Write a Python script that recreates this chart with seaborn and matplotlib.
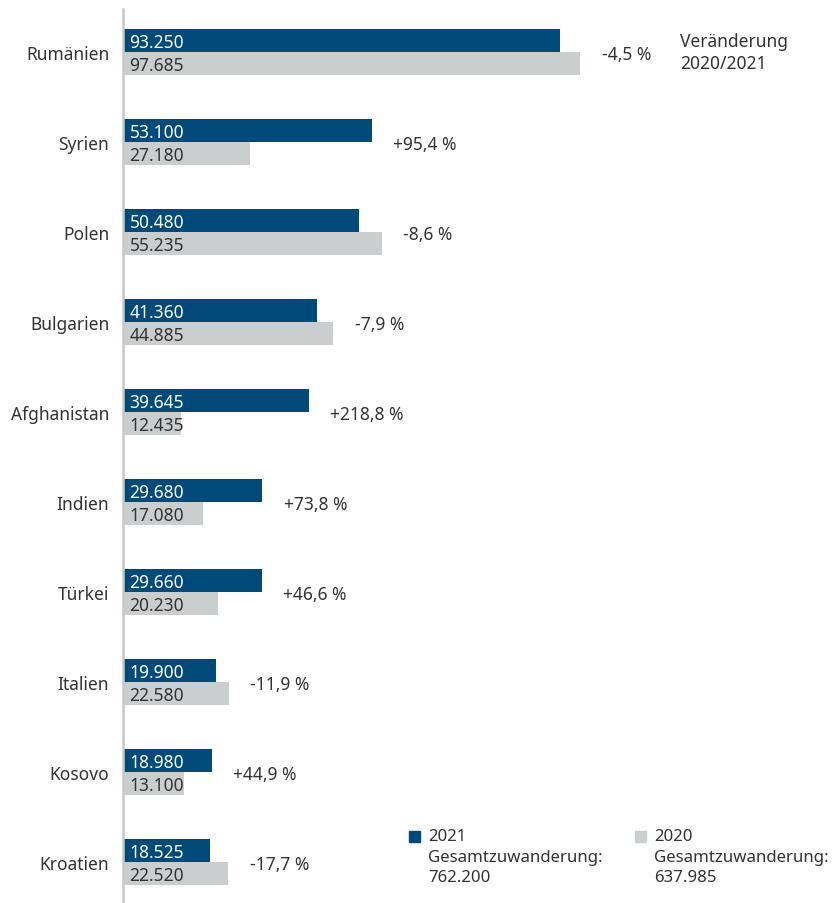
import matplotlib
matplotlib.use("Agg")
import matplotlib.pyplot as plt
import seaborn as sns
import pandas as pd
from matplotlib.patches import Rectangle

countries = ["Rumänien", "Syrien", "Polen", "Bulgarien", "Afghanistan",
             "Indien", "Türkei", "Italien", "Kosovo", "Kroatien"]
values_2021 = [93250, 53100, 50480, 41360, 39645, 29680, 29660, 19900, 18980, 18525]
values_2020 = [97685, 27180, 55235, 44885, 12435, 17080, 20230, 22580, 13100, 22520]
changes = ["-4,5 %", "+95,4 %", "-8,6 %", "-7,9 %", "+218,8 %",
           "+73,8 %", "+46,6 %", "-11,9 %", "+44,9 %", "-17,7 %"]
years = ["2021", "2020"]
totals = ["762.200", "637.985"]

BLUE = "#004A7A"
GRAY = "#CACECF"
TXT = "#333333"

sns.set_theme(style="white")
plt.rcParams["font.family"] = ["Noto Sans", "DejaVu Sans"]

df = pd.DataFrame({
    "Land": countries * 2,
    "Jahr": [years[0]] * len(countries) + [years[1]] * len(countries),
    "Wert": values_2021 + values_2020,
})

fig = plt.figure(figsize=(8.37, 9.04), dpi=100)
ax = fig.add_axes([0.147, 0.0, 0.853, 0.989])

sns.barplot(data=df, y="Land", x="Wert", hue="Jahr", hue_order=years,
            palette=[BLUE, GRAY], orient="h", width=0.51, dodge=True,
            legend=False, ax=ax, saturation=1, errorbar=None, linewidth=0)

def fmt(v):
    return f"{v:,}".replace(",", ".")

FS = 12.5
xmax = 152500
ax.set_xlim(0, xmax)
ax.set_ylim(9.456, -0.478)

for i, (a, b) in enumerate(zip(values_2021, values_2020)):
    ax.text(1400, i - 0.11, fmt(a), color="white", fontsize=FS,
            va="center", ha="left")
    ax.text(1400, i + 0.145, fmt(b), color=TXT, fontsize=FS,
            va="center", ha="left")
    ax.text(max(a, b) + 4600, i + 0.02, changes[i], color=TXT, fontsize=FS,
            va="center", ha="left")

ax.text(119000, 0.0, "Veränderung\n2020/2021", color=TXT, fontsize=FS,
        va="center", ha="left", linespacing=1.35)

ax.set_xlabel("")
ax.set_ylabel("")
ax.set_xticks([])
ax.tick_params(axis="y", length=0, pad=10, labelsize=FS, labelcolor=TXT)
for s in ["top", "right", "bottom"]:
    ax.spines[s].set_visible(False)
ax.spines["left"].set_color("#C8C8C8")
ax.spines["left"].set_linewidth(1.8)

# legend
leg_x = [0.4885, 0.7585]
for j, (yr, col) in enumerate(zip(years, [BLUE, GRAY])):
    fig.patches.append(Rectangle((leg_x[j], 1 - 843 / 904), 11 / 837, 11 / 904,
                                 transform=fig.transFigure, color=col))
    fig.text(leg_x[j] + 19 / 837, 1 - 829 / 904,
             f"{yr}\nGesamtzuwanderung:\n{totals[j]}", color=TXT,
             fontsize=12.1, va="top", ha="left", linespacing=1.38)

fig.savefig("out.png", dpi=100, facecolor="white")
